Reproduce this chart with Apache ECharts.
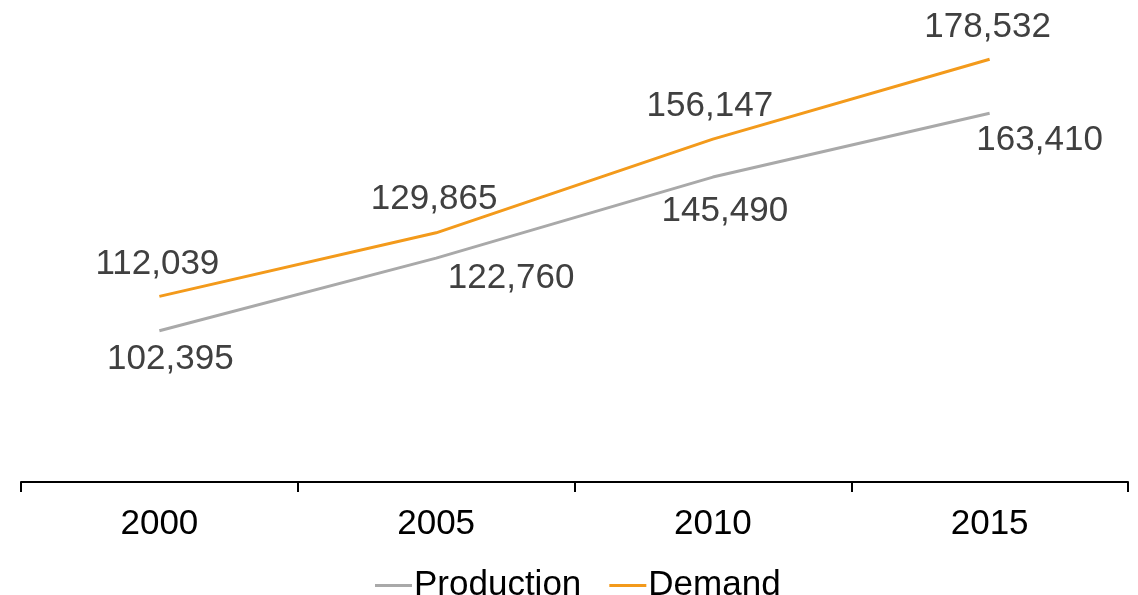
<!DOCTYPE html>
<html>
<head>
<meta charset="utf-8">
<script src="https://cdn.jsdelivr.net/npm/echarts@6/dist/echarts.min.js"></script>
<style>
html,body{margin:0;padding:0;background:#fff;}
#chart{width:1138px;height:595px;}
</style>
</head>
<body>
<div id="chart"></div>
<script>
const categories = ['2000', '2005', '2010', '2015'];
const production = [102395, 122760, 145490, 163410];
const demand = [112039, 129865, 156147, 178532];
// label offsets [dx, dy] per point
const productionLabelOffsets = [[11, 29], [75, 20], [12, 34], [50, 27]];
const demandLabelOffsets = [[-2, -32], [-2, -33], [-3, -33], [-2, -32]];

const fontFamily = 'Liberation Sans, Arial, sans-serif';
const fmt = v => v.toLocaleString('en-US');

function buildData(values, offsets) {
  return values.map((v, i) => ({
    value: v,
    label: { offset: offsets[i] }
  }));
}

const chart = echarts.init(document.getElementById('chart'));
chart.setOption({
  animation: false,
  grid: { left: 21, right: 10, top: 54, bottom: 113, containLabel: false },
  legend: {
    left: 370,
    top: 563,
    icon: 'rect',
    itemWidth: 37,
    itemHeight: 3,
    itemGap: 28,
    textStyle: { fontFamily, fontSize: 35, color: '#000', padding: [0, 0, 0, -3] },
    data: ['Production', 'Demand']
  },
  xAxis: {
    type: 'category',
    data: categories,
    boundaryGap: true,
    axisLine: { show: true, lineStyle: { color: '#000', width: 2 } },
    axisTick: { show: true, length: 10, lineStyle: { color: '#000', width: 2 } },
    axisLabel: { fontFamily, fontSize: 35, color: '#000', margin: 25 }
  },
  yAxis: {
    type: 'value',
    min: 60000,
    max: 180000,
    show: false,
    splitLine: { show: false }
  },
  series: [
    {
      name: 'Production',
      type: 'line',
      data: buildData(production, productionLabelOffsets),
      symbol: 'circle',
      symbolSize: 0.1,
      showSymbol: true,
      lineStyle: { color: '#A9A9A9', width: 3 },
      itemStyle: { color: '#A9A9A9' },
      label: {
        show: true,
        position: 'inside',
        fontFamily, fontSize: 35, color: '#404040',
        formatter: p => fmt(p.value)
      }
    },
    {
      name: 'Demand',
      type: 'line',
      data: buildData(demand, demandLabelOffsets),
      symbol: 'circle',
      symbolSize: 0.1,
      showSymbol: true,
      lineStyle: { color: '#F39A1B', width: 3 },
      itemStyle: { color: '#F39A1B' },
      label: {
        show: true,
        position: 'inside',
        fontFamily, fontSize: 35, color: '#404040',
        formatter: p => fmt(p.value)
      }
    }
  ]
});
</script>
</body>
</html>
